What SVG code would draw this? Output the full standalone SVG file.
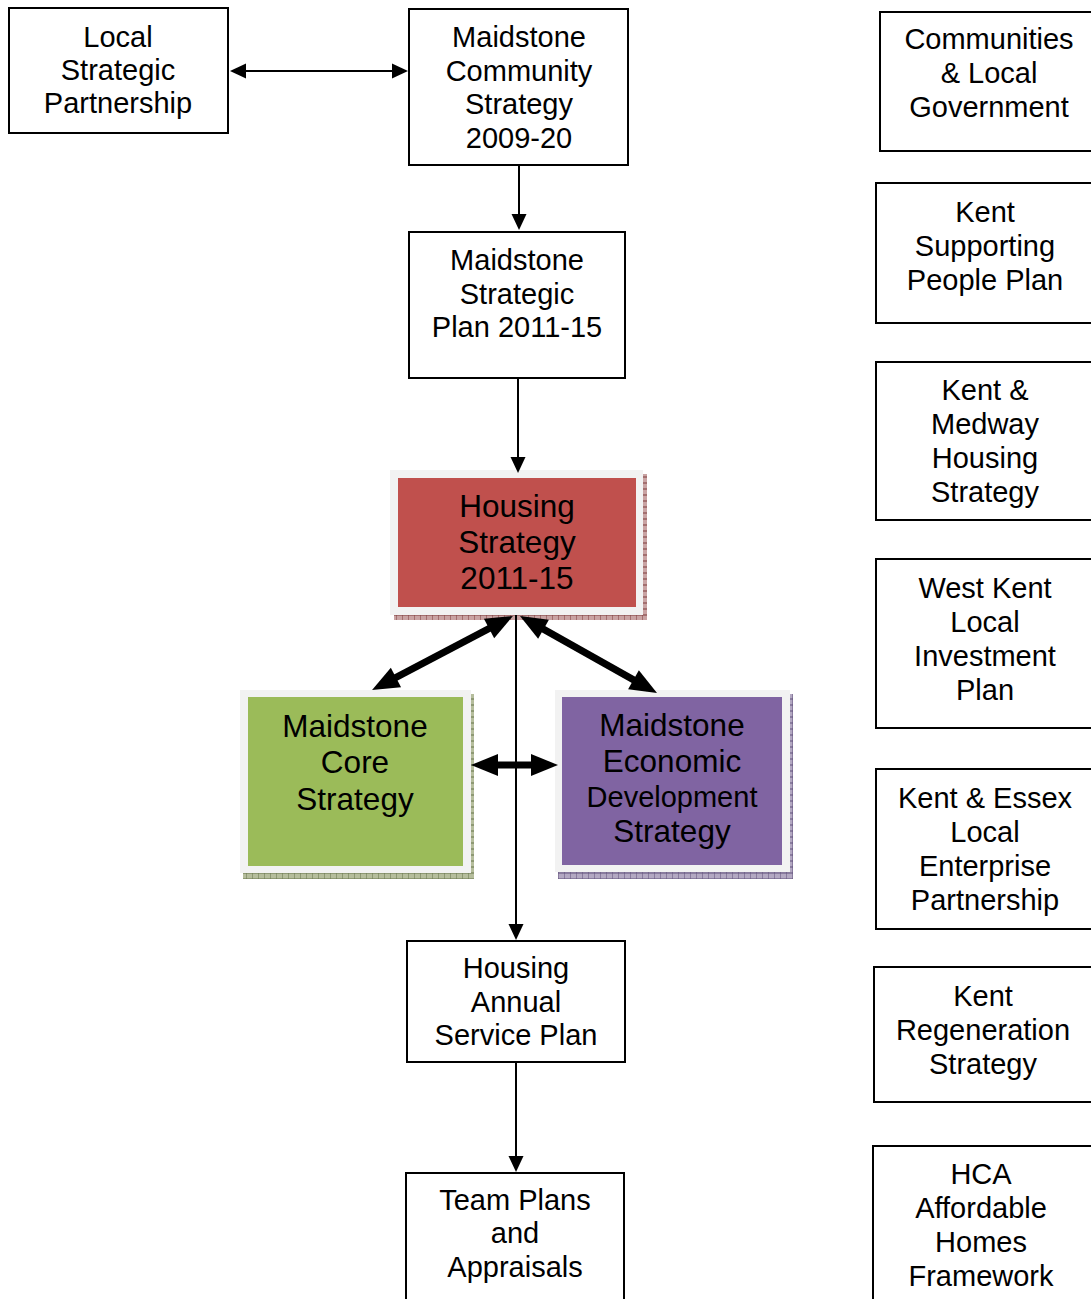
<svg xmlns="http://www.w3.org/2000/svg" width="1091" height="1299" viewBox="0 0 1091 1299">
<style>
.box{fill:#ffffff;stroke:#000000;stroke-width:2}
.frame{fill:#f2f2f2}
.t{font-family:"Liberation Sans",Arial,sans-serif;font-size:29px;fill:#000000;text-anchor:middle}
.tb{font-family:"Liberation Sans",Arial,sans-serif;font-size:31.5px;fill:#000000;text-anchor:middle}
.thin{stroke:#000000;stroke-width:2;fill:none}
.thick{stroke:#000000;stroke-width:7;fill:none}
</style>
<defs>
<marker id="ah" markerUnits="userSpaceOnUse" markerWidth="16" markerHeight="15" refX="13" refY="7.5" orient="auto-start-reverse" overflow="visible">
<path d="M0,0 L16,7.5 L0,15 Z" fill="#000000"/>
</marker>
<marker id="ahb" markerUnits="userSpaceOnUse" markerWidth="27" markerHeight="22" refX="17" refY="11" orient="auto-start-reverse" overflow="visible">
<path d="M0,0 L27,11 L0,22 Z" fill="#000000"/>
</marker>
<pattern id="pRed" width="6" height="6" patternUnits="userSpaceOnUse">
<rect width="6" height="6" fill="#c9a3a3"/>
<path d="M0,0 V6 M0,3 H6" stroke="#7d3b3b" stroke-width="1"/>
</pattern>
<pattern id="pGreen" width="6" height="6" patternUnits="userSpaceOnUse">
<rect width="6" height="6" fill="#b5bd9c"/>
<path d="M0,0 V6 M0,3 H6" stroke="#66744a" stroke-width="1"/>
</pattern>
<pattern id="pPurple" width="6" height="6" patternUnits="userSpaceOnUse">
<rect width="6" height="6" fill="#b3a8c2"/>
<path d="M0,0 V6 M0,3 H6" stroke="#5f4f7a" stroke-width="1"/>
</pattern>
</defs>
<rect width="1091" height="1299" fill="#ffffff"/>

<g id="lsp">
<rect class="box" x="9" y="8" width="219" height="125"/>
<text class="t" x="118" y="47">Local</text>
<text class="t" x="118" y="80">Strategic</text>
<text class="t" x="118" y="113">Partnership</text>
</g>

<g id="mcs">
<rect class="box" x="409" y="9" width="219" height="156"/>
<text class="t" x="519" y="47">Maidstone</text>
<text class="t" x="519" y="81">Community</text>
<text class="t" x="519" y="114">Strategy</text>
<text class="t" x="519" y="148">2009-20</text>
</g>

<g id="msp">
<rect class="box" x="409" y="232" width="216" height="146"/>
<text class="t" x="517" y="270">Maidstone</text>
<text class="t" x="517" y="304">Strategic</text>
<text class="t" x="517" y="337">Plan 2011-15</text>
</g>

<g id="hs">
<rect x="394" y="474" width="253" height="146" fill="url(#pRed)"/>
<rect class="frame" x="390" y="470" width="253" height="145"/>
<rect x="398" y="478" width="238" height="129" fill="#c0504d"/>
<text class="tb" x="517" y="517">Housing</text>
<text class="tb" x="517" y="553">Strategy</text>
<text class="tb" x="517" y="589">2011-15</text>
</g>

<g id="mcore">
<rect x="243" y="694" width="231" height="185" fill="url(#pGreen)"/>
<rect class="frame" x="240" y="690" width="231" height="183"/>
<rect x="248" y="697" width="215" height="169" fill="#9bbb59"/>
<text class="tb" x="355" y="737">Maidstone</text>
<text class="tb" x="355" y="773">Core</text>
<text class="tb" x="355" y="810">Strategy</text>
</g>

<g id="meds">
<rect x="558" y="694" width="235" height="185" fill="url(#pPurple)"/>
<rect class="frame" x="555" y="690" width="235" height="182"/>
<rect x="562" y="697" width="220" height="168" fill="#8064a2"/>
<text class="tb" x="672" y="736">Maidstone</text>
<text class="tb" x="672" y="772">Economic</text>
<text class="t" x="672" y="807">Development</text>
<text class="tb" x="672" y="842">Strategy</text>
</g>

<g id="hasp">
<rect class="box" x="407" y="941" width="218" height="121"/>
<text class="t" x="516" y="978">Housing</text>
<text class="t" x="516" y="1012">Annual</text>
<text class="t" x="516" y="1045">Service Plan</text>
</g>

<g id="team">
<rect class="box" x="406" y="1173" width="218" height="140"/>
<text class="t" x="515" y="1210">Team Plans</text>
<text class="t" x="515" y="1243">and</text>
<text class="t" x="515" y="1277">Appraisals</text>
</g>

<g id="clg">
<rect class="box" x="880" y="12" width="220" height="139"/>
<text class="t" x="989" y="49">Communities</text>
<text class="t" x="989" y="83">&amp; Local</text>
<text class="t" x="989" y="117">Government</text>
</g>

<g id="ksp">
<rect class="box" x="876" y="183" width="224" height="140"/>
<text class="t" x="985" y="222">Kent</text>
<text class="t" x="985" y="256">Supporting</text>
<text class="t" x="985" y="290">People Plan</text>
</g>

<g id="kmhs">
<rect class="box" x="876" y="362" width="224" height="158"/>
<text class="t" x="985" y="400">Kent &amp;</text>
<text class="t" x="985" y="434">Medway</text>
<text class="t" x="985" y="468">Housing</text>
<text class="t" x="985" y="502">Strategy</text>
</g>

<g id="wklip">
<rect class="box" x="876" y="559" width="224" height="169"/>
<text class="t" x="985" y="598">West Kent</text>
<text class="t" x="985" y="632">Local</text>
<text class="t" x="985" y="666">Investment</text>
<text class="t" x="985" y="700">Plan</text>
</g>

<g id="kelep">
<rect class="box" x="876" y="769" width="224" height="160"/>
<text class="t" x="985" y="808">Kent &amp; Essex</text>
<text class="t" x="985" y="842">Local</text>
<text class="t" x="985" y="876">Enterprise</text>
<text class="t" x="985" y="910">Partnership</text>
</g>

<g id="krs">
<rect class="box" x="874" y="967" width="226" height="135"/>
<text class="t" x="983" y="1006">Kent</text>
<text class="t" x="983" y="1040">Regeneration</text>
<text class="t" x="983" y="1074">Strategy</text>
</g>

<g id="hca">
<rect class="box" x="873" y="1146" width="227" height="170"/>
<text class="t" x="981" y="1184">HCA</text>
<text class="t" x="981" y="1218">Affordable</text>
<text class="t" x="981" y="1252">Homes</text>
<text class="t" x="981" y="1286">Framework</text>
</g>

<g id="connectors">
<line class="thin" x1="233" y1="71" x2="405" y2="71" marker-start="url(#ah)" marker-end="url(#ah)"/>
<line class="thin" x1="519" y1="166" x2="519" y2="227" marker-end="url(#ah)"/>
<line class="thin" x1="518" y1="379" x2="518" y2="470" marker-end="url(#ah)"/>
<line class="thin" x1="516" y1="615" x2="516" y2="937" marker-end="url(#ah)"/>
<line class="thin" x1="516" y1="1062" x2="516" y2="1169" marker-end="url(#ah)"/>
<line class="thick" x1="504.1" y1="620.6" x2="380.9" y2="685.4" marker-start="url(#ahb)" marker-end="url(#ahb)"/>
<line class="thick" x1="528.7" y1="620.9" x2="648.3" y2="688.1" marker-start="url(#ahb)" marker-end="url(#ahb)"/>
<line class="thick" x1="481" y1="765" x2="548" y2="765" marker-start="url(#ahb)" marker-end="url(#ahb)"/>
</g>
</svg>
